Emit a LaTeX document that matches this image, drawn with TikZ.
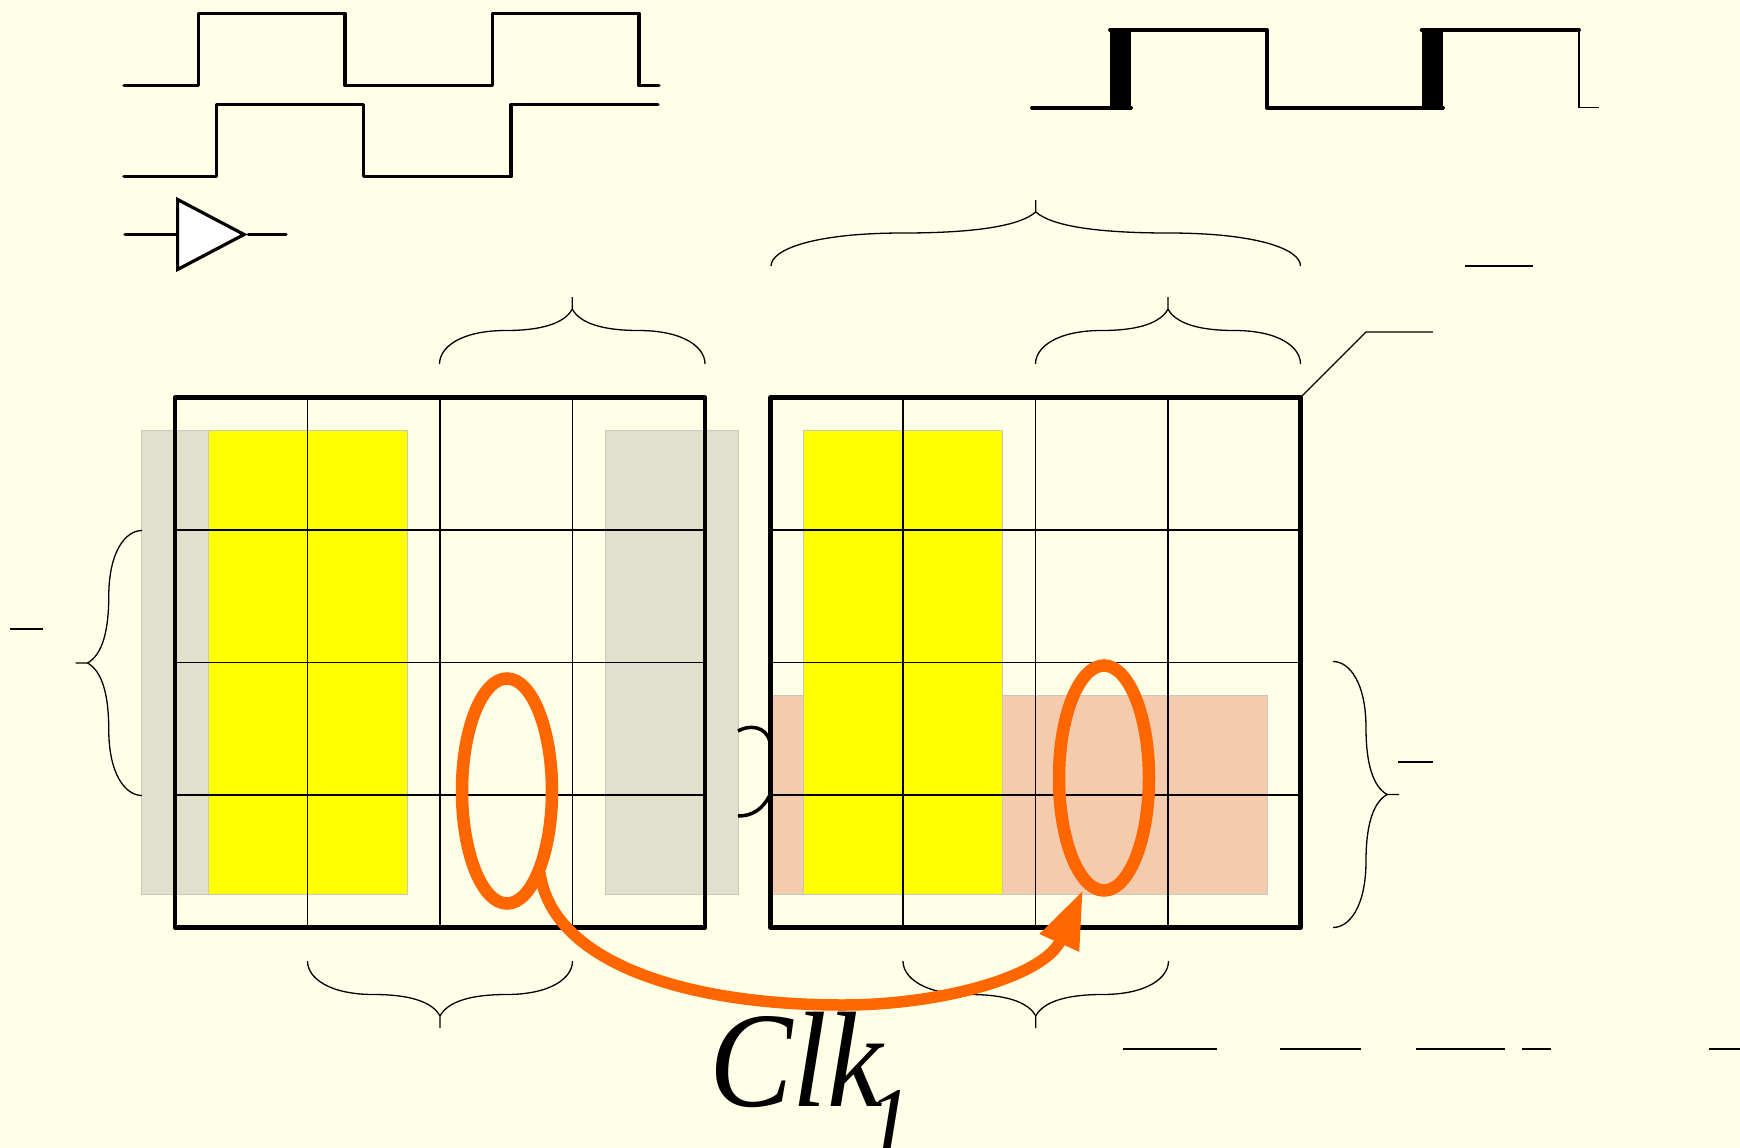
\documentclass[tikz,border=0pt]{standalone}
\usepackage{fontspec}
\setmainfont{Liberation Serif}
\usetikzlibrary{arrows.meta,shapes.geometric}
\definecolor{paper}{HTML}{FFFFE8}
\definecolor{stone}{HTML}{E0E0CC}
\definecolor{salmon}{HTML}{F5CBAE}
\definecolor{flame}{HTML}{FF6600}
\definecolor{edgegray}{HTML}{C8C8C0}
\definecolor{lemon}{RGB}{255,255,0}
\begin{document}
\begin{tikzpicture}[x=1pt,y=-1pt]
    \tikzset{
      wave/.style={line width=3.2pt,line join=round,line cap=round},
      band/.style={draw=edgegray,line width=1pt},
      frame/.style={line width=4.5pt,line join=round},
      gridline/.style={line width=1.1pt},
      dashline/.style={line width=2.2pt},
      loopnode/.style={ellipse,draw=flame,line width=12.5pt,inner sep=0pt,minimum width=90pt,minimum height=225pt},
      curlyline/.style={line width=1.3pt},
      curly/.pic={
        \draw[curlyline] (0,0) .. controls (0,.25) and (.08,.5) .. (.25,.5)
            .. controls (.38,.5) and (.47,.6) .. (.5,.82) -- (.5,1)
            (.5,.82) .. controls (.53,.6) and (.62,.5) .. (.75,.5)
            .. controls (.92,.5) and (1,.25) .. (1,0);
      }
    }
    \fill[paper] (0,0) rectangle (1740,1148);
    \useasboundingbox (0,0) rectangle (1740,1148);
    % clock traces
    \draw[wave] (124,85.5) -- (198.6,85.5) -- (198.6,13.3) -- (345,13.3) -- (345,85.5) -- (492.7,85.5)
        -- (492.7,13.3) -- (639,13.3) -- (639,85.5) -- (659,85.5);
    \draw[wave] (124,176.5) -- (216.5,176.5) -- (216.5,104.3) -- (363.5,104.3) -- (363.5,176.5) -- (511,176.5)
        -- (511,104.3) -- (658,104.3);
    \node[isosceles triangle,isosceles triangle stretches,draw,fill=white,line width=3.2pt,inner sep=0pt,
        minimum width=70pt,minimum height=66.5pt,anchor=lower side] (buffer) at (176,234.5) {};
    \coordinate (bufferin) at (125,234.5);
    \coordinate (bufferout) at (286,234.5);
    \draw[wave] (bufferin) -- (buffer.lower side);
    \draw[wave] (buffer.apex) -- (bufferout);
    % delayed trace
    \fill (1110,30) rectangle (1131,107.6);
    \fill (1421.6,30) rectangle (1443,107.6);
    \draw[wave,line width=3.8pt] (1032,107.6) -- (1131,107.6) (1110,30) -- (1267,30) -- (1267,107.6) -- (1443,107.6)
        (1421.6,30) -- (1579,30);
    \draw[line width=1.4pt] (1579,30) -- (1579,107.6) -- (1599,107.6);
    % bands
    \filldraw[band,fill=stone] (141.5,430.6) rectangle (274,894.4);
    \filldraw[band,fill=stone] (605,430.6) rectangle (738,894.4);
    \filldraw[band,fill=salmon] (772,695.8) rectangle (1267,894.4);
    \filldraw[band,fill=lemon] (208.6,430.6) rectangle (407.3,894.4);
    \filldraw[band,fill=lemon] (803.4,430.6) rectangle (1002,894.4);
    % maps
    \foreach \mapx in {175,770.5}{
      \begin{scope}[xshift=\mapx pt]
        \foreach \rowy in {530,662.5,795}
          \draw[gridline] (0,\rowy) -- (530,\rowy);
        \foreach \colx in {132.5,265,397.5}
          \draw[gridline] (\colx,397.5) -- (\colx,927.5);
        \draw[frame] (0,397.5) rectangle (530,927.5);
      \end{scope}
    }
    \draw[line width=3.5pt] (738,731) .. controls (748,725) and (766,725) .. (770,742);
    \draw[line width=3.5pt] (738,816) .. controls (752,816) and (762,810) .. (770,795);
    \draw[curlyline] (1300.5,397.5) -- (1366,332) -- (1433,332);
    % braces
    \pic[xscale=265.5,yscale=-67] at (439.5,364) {curly};
    \pic[xscale=529.5,yscale=-66] at (771,266) {curly};
    \pic[xscale=265,yscale=-67] at (1035.5,364) {curly};
    \pic[xscale=265,yscale=67] at (307.5,961) {curly};
    \pic[xscale=265.5,yscale=67] at (903,961) {curly};
    \pic[rotate=90,xscale=265,yscale=-66.5] at (142,795.5) {curly};
    \pic[rotate=90,xscale=266,yscale=66] at (1333,927.5) {curly};
    % stubs
    \draw[dashline] (1465,266) -- (1532.5,266);
    \draw[dashline] (10,629) -- (43,629);
    \draw[dashline] (1398,762) -- (1433,762);
    \foreach \fromx/\tox in {1123/1217,1279.5/1360.5,1416/1505,1521.5/1551,1709/1740}
      \draw[dashline] (\fromx,1049) -- (\tox,1049);
    % clock path
    \node[loopnode] (loopleft) at (507,791) {};
    \node[loopnode] (loopright) at (1104,778) {};
    \coordinate (looptip) at (1083,890);
    \coordinate (loopfoot) at (540,873);
    \draw[flame,line width=11.5pt,-{Triangle[length=58pt,width=40pt]}] (loopfoot)
        .. controls (552,960) and (680,1005) .. (843,1005)
        .. controls (945,1005) and (1045,975) .. (looptip);
    \node[anchor=base west,inner sep=0pt] (clklabel) at (709,1106)
        {\scalebox{.92}[1]{\fontsize{136}{136}\selectfont\itshape Clk\raisebox{-50pt}{\fontsize{100}{100}\selectfont\kern-18pt 1}}};
\end{tikzpicture}
\end{document}
